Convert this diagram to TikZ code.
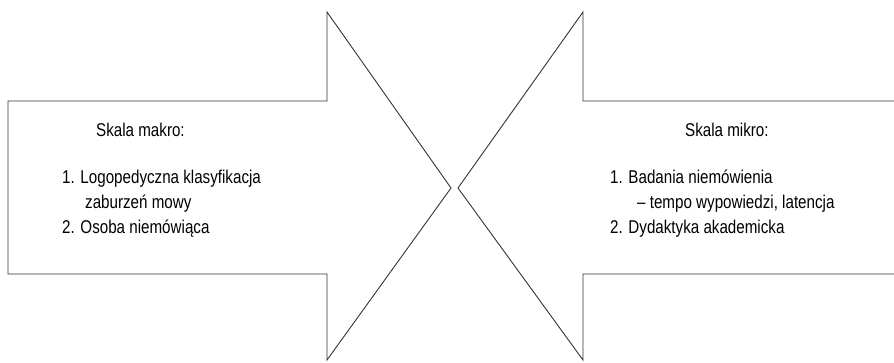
\documentclass[tikz,border=0pt]{standalone}
\usepackage{fontspec}
\setmainfont{Liberation Sans}[FakeStretch=0.82]
\begin{document}
\begin{tikzpicture}[x=1pt,y=-1pt,
  outline/.style={draw=black!80,line width=0.9pt,line join=miter},
  txt/.style={anchor=base west,inner sep=0pt,font=\fontsize{18.5}{22}\selectfont,text=black}]
\useasboundingbox (0,0) rectangle (894,362);
\draw[outline] (8,101) -- (327,101) -- (327,12) -- (451,188) -- (327,360) -- (327,274) -- (8,274) -- cycle;
\draw[outline] (896,101) -- (583,101) -- (583,12) -- (458,188) -- (583,360) -- (583,274) -- (896,274);
\node[txt] (lh) at (96,136) {Skala makro:};
\node[txt] (l1) at (62,183) {1. Logopedyczna klasyfikacja};
\node[txt] (l2) at (85,208) {zaburzeń mowy};
\node[txt] (l3) at (62,233) {2. Osoba niemówiąca};
\node[txt] (rh) at (685,136) {Skala mikro:};
\node[txt] (r1) at (610,183) {1. Badania niemówienia};
\node[txt] (r2) at (637,208) {– tempo wypowiedzi, latencja};
\node[txt] (r3) at (610,233) {2. Dydaktyka akademicka};
\end{tikzpicture}
\end{document}
